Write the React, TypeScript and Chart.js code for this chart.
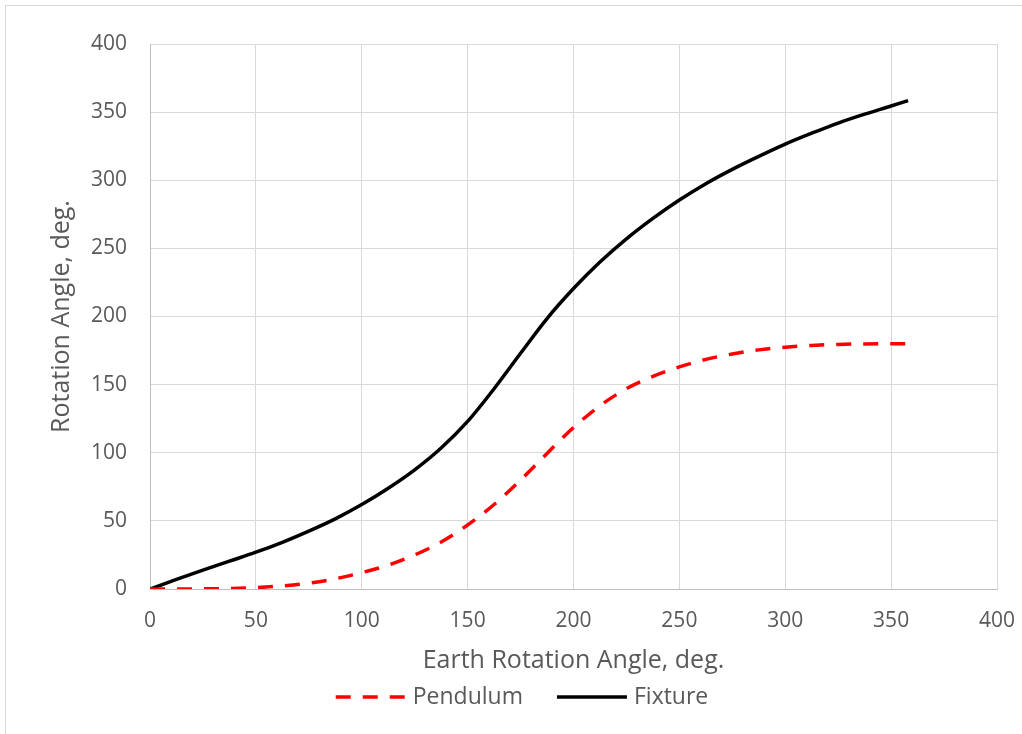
import React, { useEffect, useRef } from "react";
import { Chart, registerables } from "chart.js";

Chart.register(...registerables);

const earthAngle = [0, 12.5, 25, 37.5, 50, 62.5, 75, 87.5, 100, 112.5, 125, 137.5, 150, 162.5, 175, 187.5, 200, 212.5, 225, 237.5, 250, 262.5, 275, 287.5, 300, 312.5, 325, 337.5, 350, 358];
const pendulum = [0, 0, 0.1, 0.4, 1, 2.3, 4.3, 7.5, 12, 17.5, 25, 34.5, 47, 62, 80, 99.5, 118.5, 134.5, 147, 156, 163, 168.5, 172.5, 175.5, 177.5, 178.8, 179.5, 179.9, 180, 180];
const fixture = [0, 7, 13.8, 20.4, 27, 34.3, 42.5, 51.5, 62, 74, 87.5, 103.5, 123, 147, 173, 198.5, 220.5, 240, 257, 272, 285.5, 297.5, 308, 317.5, 326.5, 334.5, 342, 348.5, 354.5, 358.5];
const seriesNames = ["Pendulum", "Fixture"];
const xAxisTitle = "Earth Rotation Angle, deg.";
const yAxisTitle = "Rotation Angle, deg.";

const FONT = "'Open Sans', sans-serif";
const TEXT = "#595959";
const GRID = "#d9d9d9";
const AXIS = "#bfbfbf";

const legendPlugin = {
  id: "bottomLegend",
  afterDraw(chart: any) {
    const ctx = chart.ctx as CanvasRenderingContext2D;
    const y = 697;
    const lineLen = 70;
    const textGap = 7;
    const itemGap = 34;
    ctx.save();
    ctx.font = `23px ${FONT}`;
    const items = chart.data.datasets.map((ds: any) => ({
      label: ds.label,
      color: ds.borderColor,
      dash: ds.borderDash || [],
      width: ds.borderWidth,
      textW: ctx.measureText(ds.label).width,
    }));
    let total = 0;
    items.forEach((it: any, i: number) => {
      total += lineLen + textGap + it.textW + (i < items.length - 1 ? itemGap : 0);
    });
    let x = 522 - total / 2;
    items.forEach((it: any) => {
      ctx.beginPath();
      ctx.setLineDash(it.dash);
      ctx.lineDashOffset = 0;
      ctx.strokeStyle = it.color;
      ctx.lineWidth = it.width;
      ctx.lineCap = "butt";
      ctx.moveTo(x, y);
      ctx.lineTo(x + lineLen, y);
      ctx.stroke();
      ctx.setLineDash([]);
      ctx.fillStyle = TEXT;
      ctx.textBaseline = "middle";
      ctx.textAlign = "left";
      ctx.fillText(it.label, x + lineLen + textGap, y);
      x += lineLen + textGap + it.textW + itemGap;
    });
    ctx.restore();
  },
};

export default function App() {
  const canvasRef = useRef<HTMLCanvasElement | null>(null);

  useEffect(() => {
    const canvas = canvasRef.current;
    if (!canvas) return;
    const chart = new Chart(canvas, {
      type: "line",
      data: {
        datasets: [
          {
            label: seriesNames[0],
            data: earthAngle.map((x, i) => ({ x, y: pendulum[i] })),
            borderColor: "#ff0000",
            backgroundColor: "#ff0000",
            borderWidth: 3.5,
            borderDash: [15, 12],
            pointRadius: 0,
            cubicInterpolationMode: "monotone",
            fill: false,
          },
          {
            label: seriesNames[1],
            data: earthAngle.map((x, i) => ({ x, y: fixture[i] })),
            borderColor: "#000000",
            backgroundColor: "#000000",
            borderWidth: 3.5,
            pointRadius: 0,
            cubicInterpolationMode: "monotone",
            fill: false,
          },
        ],
      },
      options: {
        responsive: false,
        animation: false,
        layout: { padding: { left: 0, top: 44, right: 25, bottom: 55 } },
        plugins: {
          legend: { display: false },
          tooltip: { enabled: false },
        },
        scales: {
          x: {
            type: "linear",
            min: 0,
            max: 400,
            ticks: { stepSize: 50, padding: 19, color: TEXT, font: { family: FONT, size: 21 } },
            grid: { color: GRID, lineWidth: 1, drawTicks: false },
            border: { color: AXIS, width: 1 },
            title: {
              display: true,
              text: xAxisTitle,
              color: TEXT,
              font: { family: FONT, size: 25 },
              padding: { top: 0, bottom: 3 },
            },
            afterFit: (scale: any) => {
              scale.height = 90;
              scale.paddingLeft = 0;
              scale.paddingRight = 0;
            },
          },
          y: {
            type: "linear",
            min: 0,
            max: 400,
            ticks: { stepSize: 50, padding: 23, color: TEXT, font: { family: FONT, size: 21 } },
            grid: { color: GRID, lineWidth: 1, drawTicks: false },
            border: { color: AXIS, width: 1 },
            title: {
              display: true,
              text: yAxisTitle,
              color: TEXT,
              font: { family: FONT, size: 25 },
              padding: { top: 47, bottom: 0 },
            },
            afterFit: (scale: any) => {
              scale.width = 150;
            },
          },
        },
      },
      plugins: [legendPlugin],
    });
    return () => chart.destroy();
  }, []);

  return (
    <div style={{ position: "fixed", left: 0, top: 0, width: 1022, height: 734, overflow: "hidden", background: "#ffffff" }}>
      <div style={{ position: "absolute", left: 5, top: 5, width: 1040, height: 760, border: "1px solid #d9d9d9", boxSizing: "border-box" }} />
      <canvas ref={canvasRef} width={1022} height={734} style={{ position: "absolute", left: 0, top: 0, display: "block" }} />
    </div>
  );
}
